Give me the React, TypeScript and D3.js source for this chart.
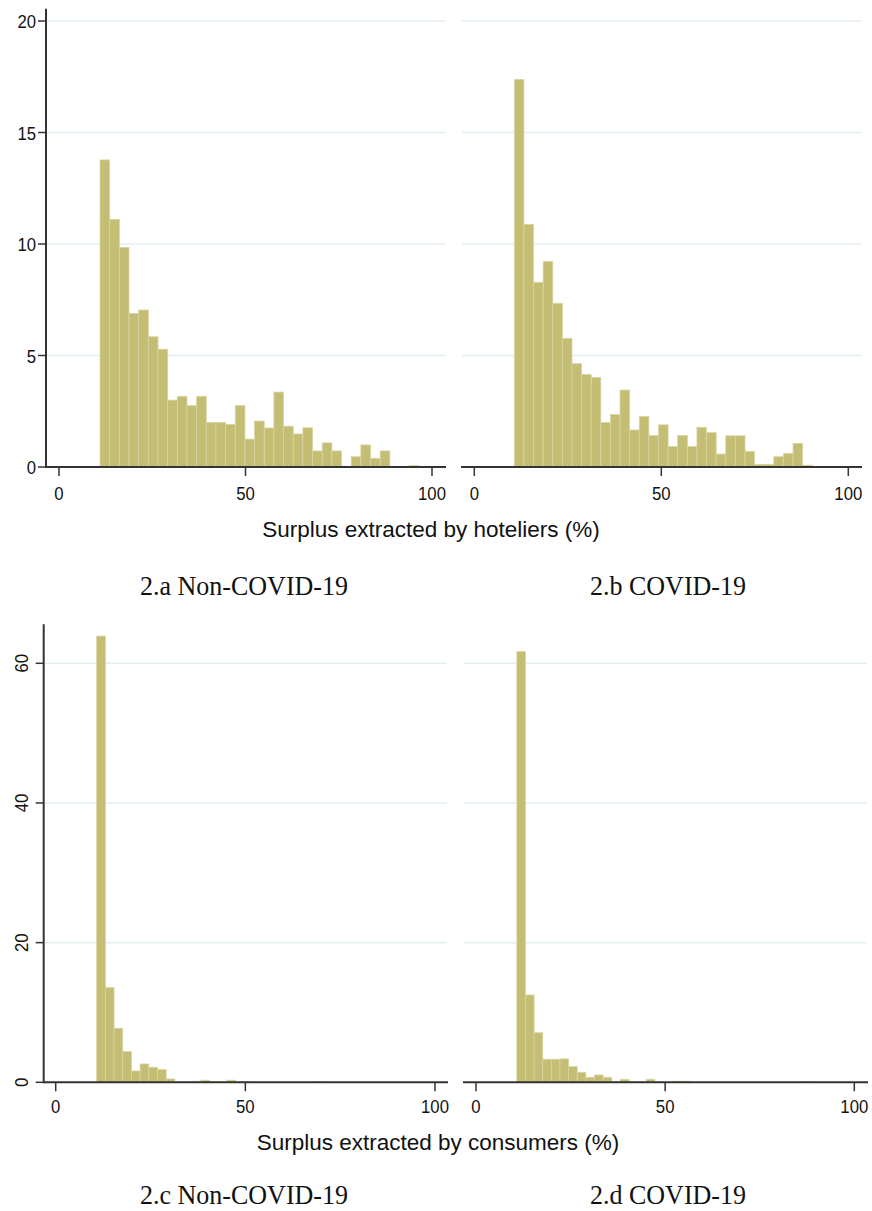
import React from "react";
import * as d3 from "d3";

// bar heights (percent), one value per bin
const hotelNonCovid = [13.77, 11.1, 9.84, 6.89, 7.04, 5.84, 5.28, 3.0, 3.17, 2.75, 3.17, 2.0, 2.0, 1.91, 2.75, 1.25, 2.06, 1.75, 3.36, 1.83, 1.48, 1.76, 0.72, 1.08, 0.72, 0, 0.46, 0.99, 0.39, 0.72, 0, 0, 0.06];
const hotelCovid = [17.38, 10.88, 8.28, 9.21, 7.34, 5.77, 4.63, 4.15, 4.01, 1.99, 2.36, 3.45, 1.66, 2.27, 1.41, 1.89, 0.92, 1.41, 0.92, 1.78, 1.54, 0.58, 1.4, 1.4, 0.7, 0.12, 0.12, 0.46, 0.6, 1.06, 0.08];
const consNonCovid = [63.9, 13.56, 7.73, 4.39, 1.62, 2.63, 2.15, 1.81, 0.48, 0.1, 0.1, 0.15, 0.3, 0.1, 0.05, 0.3, 0.12, 0.05, 0, 0, 0, 0, 0, 0, 0, 0.1];
const consCovid = [61.67, 12.5, 7.1, 3.3, 3.3, 3.35, 2.24, 1.43, 0.72, 1.05, 0.72, 0.1, 0.43, 0.1, 0.1, 0.43, 0.1, 0, 0.15, 0.15, 0, 0, 0, 0, 0, 0, 0, 0, 0, 0, 0, 0, 0, 0.1];

const xTicks = [0, 50, 100];
const yTicksTop = [0, 5, 10, 15, 20];
const yTicksBottom = [0, 20, 40, 60];

const captions = ["2.a Non-COVID-19", "2.b COVID-19", "2.c Non-COVID-19", "2.d COVID-19"];
const xTitles = ["Surplus extracted by hoteliers (%)", "Surplus extracted by consumers (%)"];

const BAR = "#c4bd74";
const BAR_EDGE = "#d9d4a2";
const AXIS = "#333";
const GRID = "#e4eef1";
const SANS = "'Liberation Sans', Arial, sans-serif";
const SERIF = "'Liberation Serif', 'Times New Roman', serif";
const TICK_FS = 19;
const NARROW = 0.88; // the original figure is a bit squeezed sideways

type PanelProps = {
  values: number[];
  binStart: number;
  binWidth: number;
  xRange: [number, number];
  yDomain: [number, number];
  yRange: [number, number];
  yTop: number;
  yTicks: number[];
  lineX: [number, number];
  yAxisX: number | null;
  rotateY: boolean;
  tickLabelY: number;
};

function Panel(p: PanelProps) {
  const x = d3.scaleLinear().domain([0, 100]).range(p.xRange);
  const y = d3.scaleLinear().domain(p.yDomain).range(p.yRange);
  const y0 = y(0);

  return (
    <g>
      {p.yTicks
        .filter((t) => t > 0)
        .map((t) => (
          <line key={"g" + t} x1={p.lineX[0] + 1} x2={p.lineX[1] - 1} y1={y(t)} y2={y(t)} stroke={GRID} strokeWidth={1.5} />
        ))}
      {p.values.map((v, i) =>
        v > 0 ? (
          <rect
            key={i}
            x={x(p.binStart + i * p.binWidth)}
            y={y(v)}
            width={x(p.binStart + (i + 1) * p.binWidth) - x(p.binStart + i * p.binWidth)}
            height={y0 - y(v)}
            fill={BAR}
            stroke={BAR_EDGE}
            strokeWidth={0.8}
          />
        ) : null
      )}
      <line x1={p.lineX[0]} x2={p.lineX[1]} y1={y0} y2={y0} stroke={AXIS} strokeWidth={2} />
      {xTicks.map((t) => (
        <g key={"x" + t}>
          <line x1={x(t)} x2={x(t)} y1={y0} y2={y0 + 9} stroke={AXIS} strokeWidth={1.5} />
          <text
            transform={`translate(${x(t)},${p.tickLabelY}) scale(${NARROW},1)`}
            textAnchor="middle"
            fontFamily={SANS}
            fontSize={TICK_FS}
            fill="#111"
          >
            {t}
          </text>
        </g>
      ))}
      {p.yAxisX !== null && (
        <g>
          <line x1={p.yAxisX} x2={p.yAxisX} y1={y(p.yTop)} y2={y0 + 1} stroke={AXIS} strokeWidth={2} />
          {p.yTicks.map((t) => (
            <g key={"y" + t}>
              <line x1={p.yAxisX! - 8} x2={p.yAxisX!} y1={y(t)} y2={y(t)} stroke={AXIS} strokeWidth={1.5} />
              {p.rotateY ? (
                <text
                  transform={`translate(${p.yAxisX! - 16},${y(t)}) rotate(-90) scale(${NARROW},1)`}
                  textAnchor="middle"
                  fontFamily={SANS}
                  fontSize={TICK_FS}
                  fill="#111"
                >
                  {t}
                </text>
              ) : (
                <text
                  transform={`translate(${p.yAxisX! - 10},${y(t) + 7}) scale(${NARROW},1)`}
                  textAnchor="end"
                  fontFamily={SANS}
                  fontSize={TICK_FS}
                  fill="#111"
                >
                  {t}
                </text>
              )}
            </g>
          ))}
        </g>
      )}
    </g>
  );
}

function Caption({ x, y, label }: { x: number; y: number; label: string }) {
  return (
    <text transform={`translate(${x},${y}) scale(0.93,1)`} textAnchor="middle" fontFamily={SERIF} fontSize={28} fill="#111">
      {label}
    </text>
  );
}

export default function App() {
  return (
    <svg width={872} height={1211} style={{ position: "absolute", left: 0, top: 0, background: "#fff" }}>
      <rect width={872} height={1211} fill="#fff" />
      <Panel
        values={hotelNonCovid}
        binStart={11.0}
        binWidth={2.59}
        xRange={[59, 432]}
        yDomain={[0, 20]}
        yRange={[467, 21]}
        yTop={20.55}
        yTicks={yTicksTop}
        lineX={[46, 446]}
        yAxisX={46}
        rotateY={false}
        tickLabelY={500}
      />
      <Panel
        values={hotelCovid}
        binStart={10.7}
        binWidth={2.57}
        xRange={[474.3, 848.3]}
        yDomain={[0, 20]}
        yRange={[467, 21]}
        yTop={20.55}
        yTicks={yTicksTop}
        lineX={[461, 862]}
        yAxisX={null}
        rotateY={false}
        tickLabelY={500}
      />
      <Panel
        values={consNonCovid}
        binStart={10.8}
        binWidth={2.29}
        xRange={[55.7, 435]}
        yDomain={[0, 60]}
        yRange={[1082.3, 663.3]}
        yTop={65.6}
        yTicks={yTicksBottom}
        lineX={[43.7, 448]}
        yAxisX={43.7}
        rotateY={true}
        tickLabelY={1113}
      />
      <Panel
        values={consCovid}
        binStart={10.8}
        binWidth={2.28}
        xRange={[476, 854.3]}
        yDomain={[0, 60]}
        yRange={[1082.3, 663.3]}
        yTop={65.6}
        yTicks={yTicksBottom}
        lineX={[463, 868]}
        yAxisX={null}
        rotateY={true}
        tickLabelY={1113}
      />
      <text x={431} y={537} textAnchor="middle" fontFamily={SANS} fontSize={22.5} fill="#111">
        {xTitles[0]}
      </text>
      <text x={438} y={1150} textAnchor="middle" fontFamily={SANS} fontSize={22.5} fill="#111">
        {xTitles[1]}
      </text>
      <Caption x={244} y={595} label={captions[0]} />
      <Caption x={668} y={595} label={captions[1]} />
      <Caption x={244} y={1204} label={captions[2]} />
      <Caption x={668} y={1204} label={captions[3]} />
    </svg>
  );
}
